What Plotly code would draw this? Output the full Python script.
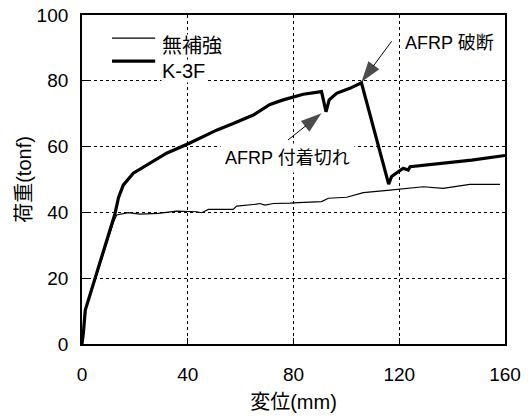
import plotly.graph_objects as go

# 無補強 (unreinforced)
x_plain = [0, 0.5, 1.2, 5.5, 9.3, 12.0, 13.1, 17.5, 21.9, 28.9, 35.8, 43.4, 45.3, 47.8, 57.2, 58.5,
           66.0, 67.3, 69.2, 72.4, 78.7, 81.8, 90.6, 93.2, 100.1, 106.4, 116.5, 122.8, 129.1,
           136.6, 146.7, 158.1]
y_plain = [0, 3.2, 10.0, 21.0, 31.0, 37.2, 39.2, 39.9, 39.5, 39.7, 40.4, 40.2, 39.9, 40.9, 40.9, 41.9,
           42.5, 42.7, 42.2, 42.7, 42.8, 43.0, 43.3, 44.3, 44.6, 46.0, 46.8, 47.3, 47.8,
           47.3, 48.5, 48.5]

# K-3F
x_k3f = [0, 0.5, 1.25, 5.5, 9.3, 12.5, 13.8, 15.6, 19.4, 25.7, 32.0, 40.6, 50.9, 57.2, 64.8, 71.1,
         76.1, 83.7, 90.0, 90.6, 91.2, 92.3, 93.5, 96.3, 101.3, 105.7, 116.0, 117.1, 121.5,
         123.4, 124.1, 132.9, 141.7, 147.4, 160.0]
y_k3f = [0, 3.2, 10.3, 21.5, 31.6, 39.7, 44.5, 48.3, 51.9, 54.9, 58.0, 61.0, 65.0, 67.0, 69.6, 72.8,
         74.2, 75.9, 76.7, 76.7, 74.6, 70.6, 74.2, 76.2, 77.7, 79.4, 48.6, 50.9, 53.4,
         52.9, 53.9, 54.7, 55.4, 55.9, 57.3]

x_ticks = [0, 40, 80, 120, 160]
y_ticks = [0, 20, 40, 60, 80, 100]

# callouts: (tail, tip) in data units
break_arrow_x = [117.1, 105.7]
break_arrow_y = [92.0, 79.6]
debond_arrow_x = [77.9, 90.6]
debond_arrow_y = [62.0, 70.1]

num_font = "Liberation Sans, Arial, Noto Sans CJK JP"
jp_font = "Liberation Sans, Noto Sans CJK JP"

fig = go.Figure()
fig.add_trace(go.Scatter(x=x_plain, y=y_plain, mode="lines", name="無補強",
                         line=dict(color="black", width=1.2)))
fig.add_trace(go.Scatter(x=x_k3f, y=y_k3f, mode="lines", name="K-3F",
                         line=dict(color="black", width=3.2)))

for ax_, ay_ in [(break_arrow_x, break_arrow_y), (debond_arrow_x, debond_arrow_y)]:
    fig.add_trace(go.Scatter(x=ax_, y=ay_, mode="lines+markers", hoverinfo="skip",
                             line=dict(color="black", width=1),
                             marker=dict(symbol=["circle", "arrow"], size=[0, 22],
                                         angleref="previous", color="black",
                                         line=dict(width=0))))

axis_common = dict(showline=True, linecolor="black", linewidth=1.8, mirror=True,
                   showgrid=True, gridcolor="black", gridwidth=1, griddash="dot",
                   ticks="inside", ticklen=6, tickcolor="black", tickwidth=1,
                   zeroline=False, automargin=False,
                   tickfont=dict(family=num_font, size=19, color="black"))

fig.update_xaxes(range=[0, 160], tickvals=x_ticks, ticklabelstandoff=12,
                 title=dict(text="変位(mm)", font=dict(family=jp_font, size=20, color="black"),
                            standoff=11),
                 **axis_common)
fig.update_yaxes(range=[0, 100], tickvals=y_ticks, ticklabelstandoff=8,
                 title=dict(text="荷重(tonf)", font=dict(family=jp_font, size=20, color="black"),
                            standoff=0),
                 **axis_common)

# legend drawn manually
fig.add_shape(type="line", xref="paper", yref="paper", x0=0.071, x1=0.173, y0=0.930, y1=0.930,
              line=dict(color="black", width=1.2))
fig.add_shape(type="line", xref="paper", yref="paper", x0=0.071, x1=0.173, y0=0.860, y1=0.860,
              line=dict(color="black", width=3.2))
fig.add_annotation(xref="paper", yref="paper", x=0.186, y=0.905, text="無補強", showarrow=False,
                   xanchor="left", yanchor="middle", bgcolor="white", borderpad=0,
                   font=dict(family=jp_font, size=20, color="black"))
fig.add_annotation(xref="paper", yref="paper", x=0.186, y=0.830, text="K-3F", showarrow=False,
                   xanchor="left", yanchor="middle", bgcolor="white", borderpad=0,
                   font=dict(family=jp_font, size=20, color="black"))

fig.add_annotation(x=120.8, y=91.5, text="AFRP 破断", showarrow=False, xanchor="left",
                   yanchor="middle", bgcolor="white", borderpad=3,
                   font=dict(family=jp_font, size=18, color="black"))
fig.add_annotation(x=77.9, y=56.5, text="AFRP 付着切れ", showarrow=False, xanchor="center",
                   yanchor="middle", bgcolor="white", borderpad=4,
                   font=dict(family=jp_font, size=18, color="black"))

fig.update_layout(width=531, height=419,
                  margin=dict(l=82, r=26, t=15, b=75, autoexpand=False),
                  paper_bgcolor="white", plot_bgcolor="white", showlegend=False)

fig.write_html("out.html")
